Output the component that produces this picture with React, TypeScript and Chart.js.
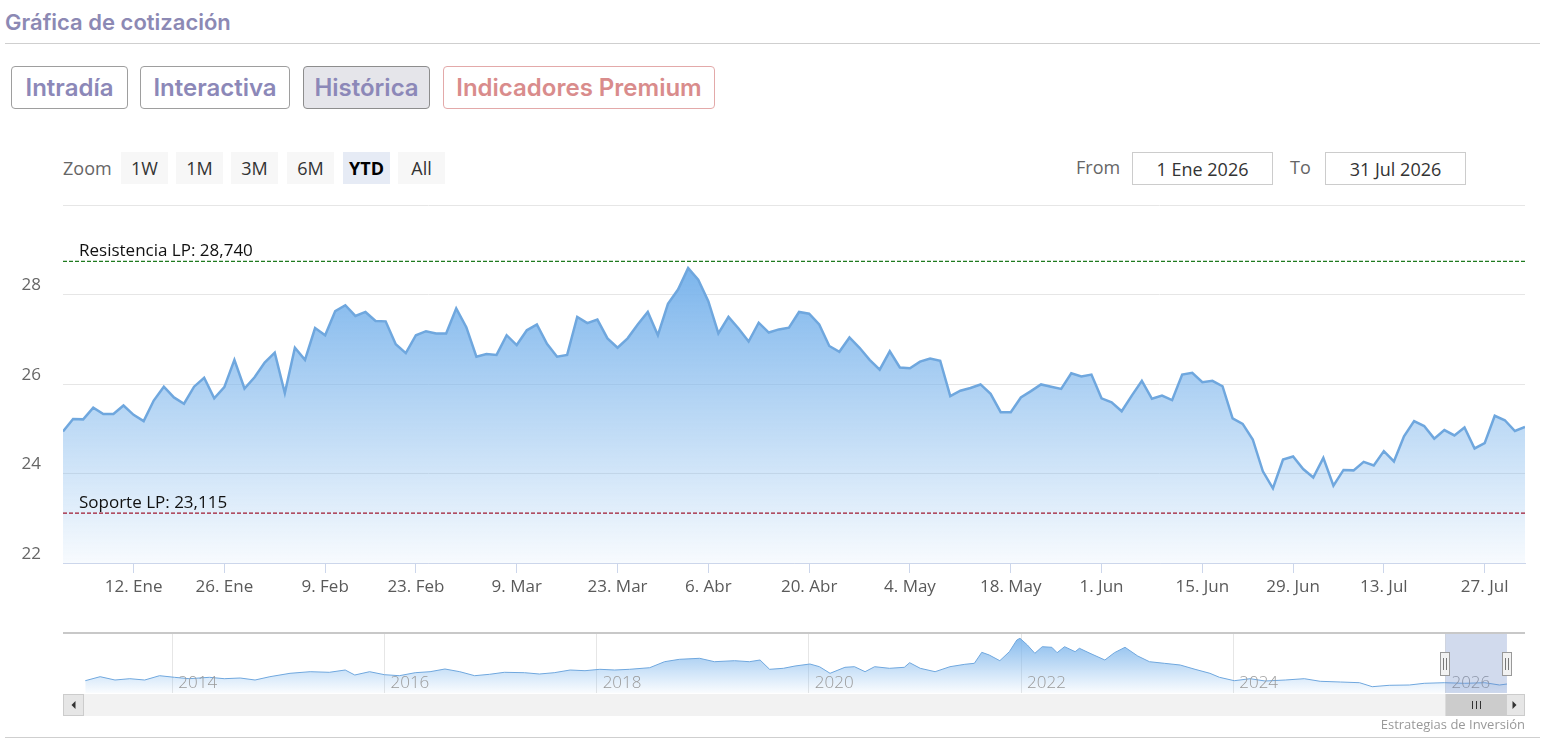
import React, { useEffect, useRef } from 'react';
import { Chart, registerables } from 'chart.js';

Chart.register(...registerables);

// ---------------- DATA ----------------
const priceValues: number[] = [
  24.94, 25.22, 25.21, 25.47, 25.33, 25.33, 25.52, 25.31, 25.17, 25.63,
  25.94, 25.70, 25.56, 25.94, 26.14, 25.68, 25.93, 26.54, 25.90, 26.15,
  26.48, 26.70, 25.80, 26.81, 26.54, 27.25, 27.09, 27.63, 27.76, 27.52,
  27.61, 27.41, 27.40, 26.89, 26.69, 27.09, 27.18,
  27.13, 27.13, 27.69, 27.27, 26.61, 26.67, 26.65, 27.09, 26.87, 27.20,
  27.33, 26.90, 26.61, 26.65, 27.50, 27.36, 27.44, 27.02, 26.81, 27.02,
  27.33, 27.61, 27.09, 27.79, 28.11, 28.59, 28.33, 27.85, 27.13, 27.50,
  27.24, 26.95, 27.37, 27.15, 27.22, 27.26,
  27.61, 27.57, 27.33, 26.85, 26.72, 27.04, 26.81, 26.54, 26.32, 26.73,
  26.37, 26.35, 26.50, 26.57, 26.52, 25.73, 25.85, 25.91, 25.99, 25.78,
  25.37, 25.37, 25.70, 25.84, 25.99, 25.94, 25.89, 26.24, 26.17, 26.21,
  25.68, 25.59, 25.39, 25.74, 26.07, 25.67, 25.74,
  25.64, 26.21, 26.25, 26.04, 26.07, 25.95, 25.23, 25.11, 24.76, 24.05,
  23.67, 24.31, 24.38, 24.10, 23.91, 24.35, 23.73, 24.08, 24.07, 24.26,
  24.18, 24.50, 24.27, 24.83, 25.17, 25.06, 24.78, 24.97, 24.85, 25.03,
  24.56, 24.68, 25.29, 25.19, 24.95, 25.04,
];

const tickIndices: number[] = [7, 16, 26, 35, 45, 55, 64, 74, 84, 94, 103, 113, 122, 131, 141];
const tickLabels: string[] = [
  '12. Ene', '26. Ene', '9. Feb', '23. Feb', '9. Mar', '23. Mar', '6. Abr', '20. Abr',
  '4. May', '18. May', '1. Jun', '15. Jun', '29. Jun', '13. Jul', '27. Jul',
];
const yTickValues: number[] = [22, 24, 26, 28, 30];

const levelValues: number[] = [28.74, 23.115];
const levelLabels: string[] = ['Resistencia LP: 28,740', 'Soporte LP: 23,115'];

const navYears: number[] = [
  2013.18, 2013.32, 2013.46, 2013.60, 2013.74, 2013.88, 2014.02, 2014.16, 2014.35, 2014.49,
  2014.64, 2014.78, 2014.92, 2015.11, 2015.30, 2015.48, 2015.63, 2015.72, 2015.86, 2016.00,
  2016.14, 2016.29, 2016.43, 2016.57, 2016.71, 2016.85, 2016.99, 2017.13, 2017.32, 2017.46,
  2017.60, 2017.75, 2017.89, 2018.03, 2018.17, 2018.31, 2018.50, 2018.64, 2018.78, 2018.97,
  2019.11, 2019.30, 2019.44, 2019.54, 2019.63, 2019.76, 2019.87, 2020.01, 2020.10, 2020.20,
  2020.34, 2020.43, 2020.53, 2020.62, 2020.76, 2020.90, 2020.95, 2021.05, 2021.19, 2021.33,
  2021.47, 2021.56, 2021.63, 2021.70, 2021.80, 2021.89, 2021.96, 2021.99, 2022.06, 2022.13,
  2022.20, 2022.29, 2022.34, 2022.41, 2022.51, 2022.55, 2022.65, 2022.79, 2022.88, 2022.98,
  2023.10, 2023.21, 2023.35, 2023.50, 2023.64, 2023.78, 2023.87, 2024.01, 2024.16, 2024.30,
  2024.49, 2024.67, 2024.82, 2025.01, 2025.19, 2025.31, 2025.47, 2025.66, 2025.80, 2025.99,
  2026.18, 2026.37, 2026.51, 2026.58,
];
const navValues: number[] = [
  29.3, 33.3, 30.0, 31.3, 30.0, 34.3, 32.7, 31.3, 32.7, 31.3,
  32.0, 30.0, 33.3, 36.7, 38.3, 37.7, 40.0, 35.0, 38.3, 35.3,
  34.3, 37.3, 38.3, 41.0, 38.3, 34.3, 35.7, 37.7, 37.3, 36.0,
  37.3, 40.0, 39.3, 40.7, 40.0, 40.7, 42.3, 48.3, 50.7, 51.7,
  48.3, 49.3, 48.3, 50.0, 40.7, 41.7, 44.0, 46.0, 43.3, 36.7,
  42.7, 43.3, 38.3, 43.3, 41.7, 42.7, 47.3, 41.7, 38.3, 43.3,
  45.7, 46.7, 57.7, 55.0, 49.3, 58.3, 70.0, 71.7, 65.0, 56.7,
  63.3, 62.7, 57.3, 63.3, 58.3, 61.7, 56.7, 50.0, 57.3, 62.7,
  54.0, 48.3, 46.7, 45.0, 40.7, 36.7, 32.7, 29.3, 31.3, 29.0,
  30.0, 31.3, 28.7, 28.0, 27.3, 23.3, 24.7, 25.0, 26.7, 27.3,
  26.7, 27.3, 25.0, 26.0,
];
const navYearTicks: number[] = [2014, 2016, 2018, 2020, 2022, 2024, 2026];
const navRange: number[] = [2012.97, 2026.75];
const selectionRange: number[] = [2026.0, 2026.58];

const zoomButtons: string[] = ['1W', '1M', '3M', '6M', 'YTD', 'All'];
const tabButtons: string[] = ['Intradía', 'Interactiva', 'Histórica', 'Indicadores Premium'];

// ---------------- STYLE ----------------
const OPEN = "'Open Sans', 'Noto Sans', 'DejaVu Sans', sans-serif";
const HEAD = "Inter, 'Noto Sans', sans-serif";
const LINE = '#6fa7de';
const levelColors = ['#1f7a1f', '#a01830'];

const levelsPlugin = {
  id: 'levels',
  afterDatasetsDraw(chart: any) {
    const { ctx, chartArea, scales } = chart;
    const y = scales.y;
    levelValues.forEach((v, i) => {
      const py = y.getPixelForValue(v);
      ctx.save();
      ctx.strokeStyle = levelColors[i];
      ctx.lineWidth = 1.3;
      ctx.setLineDash([4, 2]);
      ctx.beginPath();
      ctx.moveTo(chartArea.left, py);
      ctx.lineTo(chartArea.right, py);
      ctx.stroke();
      ctx.setLineDash([]);
      ctx.fillStyle = '#111';
      ctx.font = `17px ${OPEN}`;
      ctx.textBaseline = 'alphabetic';
      ctx.textAlign = 'left';
      ctx.fillText(levelLabels[i], chartArea.left + 16, py - 5);
      ctx.restore();
    });
  },
};

const navPlugin = {
  id: 'navDecor',
  afterDatasetsDraw(chart: any) {
    const { ctx, chartArea: a, scales } = chart;
    const x = scales.x;
    ctx.save();
    // year labels
    ctx.font = `300 17px ${OPEN}`;
    ctx.fillStyle = '#9a9a9a';
    ctx.textBaseline = 'alphabetic';
    ctx.textAlign = 'left';
    navYearTicks.forEach((yr) => {
      const px = x.getPixelForValue(yr);
      ctx.fillText(String(yr), px + 6, a.bottom - 5);
    });
    // selection mask
    const x0 = x.getPixelForValue(selectionRange[0]);
    const x1 = x.getPixelForValue(selectionRange[1]);
    ctx.fillStyle = 'rgba(102,133,194,0.3)';
    ctx.fillRect(x0, a.top, x1 - x0, a.bottom - a.top);
    // outline
    ctx.strokeStyle = '#c8c8c8';
    ctx.lineWidth = 2;
    ctx.beginPath();
    ctx.moveTo(a.left, a.top);
    ctx.lineTo(a.right, a.top);
    ctx.stroke();
    // handles
    [x0, x1].forEach((hx) => {
      const hxr = Math.round(hx);
      ctx.fillStyle = '#f2f2f2';
      ctx.strokeStyle = '#999';
      ctx.lineWidth = 1;
      ctx.fillRect(hxr - 4.5, a.top + 19.5, 9, 23);
      ctx.strokeRect(hxr - 4.5, a.top + 19.5, 9, 23);
      ctx.strokeStyle = '#777';
      ctx.beginPath();
      ctx.moveTo(hxr - 1.5, a.top + 25);
      ctx.lineTo(hxr - 1.5, a.top + 37);
      ctx.moveTo(hxr + 1.5, a.top + 25);
      ctx.lineTo(hxr + 1.5, a.top + 37);
      ctx.stroke();
    });
    // scrollbar
    const sy = a.bottom + 1;
    const sh = 22;
    const bw = 21;
    ctx.fillStyle = '#f2f2f2';
    ctx.fillRect(a.left, sy, a.right - a.left, sh);
    ctx.fillStyle = '#e6e6e6';
    ctx.strokeStyle = '#cccccc';
    ctx.fillRect(a.left, sy, bw, sh);
    ctx.strokeRect(a.left + 0.5, sy + 0.5, bw - 1, sh - 1);
    ctx.fillRect(a.right - bw, sy, bw, sh);
    ctx.strokeRect(a.right - bw + 0.5, sy + 0.5, bw - 1, sh - 1);
    // thumb
    ctx.fillStyle = '#cccccc';
    ctx.fillRect(x0, sy, x1 - x0, sh);
    ctx.strokeStyle = '#333';
    ctx.lineWidth = 1;
    const cx = Math.round((x0 + x1) / 2) + 0.5;
    ctx.beginPath();
    [-4, 0, 4].forEach((d) => {
      ctx.moveTo(cx + d, sy + 7);
      ctx.lineTo(cx + d, sy + 15);
    });
    ctx.stroke();
    // arrows
    ctx.fillStyle = '#333';
    const lcx = a.left + bw / 2;
    const rcx = a.right - bw / 2;
    const cy = sy + sh / 2;
    ctx.beginPath();
    ctx.moveTo(lcx - 2, cy);
    ctx.lineTo(lcx + 2, cy - 4);
    ctx.lineTo(lcx + 2, cy + 4);
    ctx.closePath();
    ctx.fill();
    ctx.beginPath();
    ctx.moveTo(rcx + 2, cy);
    ctx.lineTo(rcx - 2, cy - 4);
    ctx.lineTo(rcx - 2, cy + 4);
    ctx.closePath();
    ctx.fill();
    ctx.restore();
  },
};

const abs = (left: number, top: number, extra: React.CSSProperties = {}): React.CSSProperties => ({
  position: 'absolute',
  left,
  top,
  ...extra,
});

export default function App() {
  const mainRef = useRef<HTMLCanvasElement | null>(null);
  const navRef = useRef<HTMLCanvasElement | null>(null);

  useEffect(() => {
    if (!mainRef.current || !navRef.current) return;

    const mainChart = new Chart(mainRef.current, {
      type: 'line',
      data: {
        datasets: [
          {
            data: priceValues.map((v, i) => ({ x: i, y: v })),
            borderColor: LINE,
            borderWidth: 2.5,
            pointRadius: 0,
            tension: 0,
            fill: 'start',
            backgroundColor: (c: any) => {
              const ch = c.chart;
              const area = ch.chartArea;
              if (!area) return 'rgba(124,181,236,0.5)';
              const yS = ch.scales.y;
              const top = yS.getPixelForValue(Math.max(...priceValues));
              const g = ch.ctx.createLinearGradient(0, top, 0, area.bottom);
              g.addColorStop(0, 'rgba(124,181,236,1)');
              g.addColorStop(1, 'rgba(124,181,236,0.06)');
              return g;
            },
          },
        ],
      },
      options: {
        responsive: false,
        animation: false,
        maintainAspectRatio: false,
        layout: { padding: { left: 0, right: 34, top: 10, bottom: 0 } },
        plugins: { legend: { display: false }, tooltip: { enabled: false } },
        scales: {
          x: {
            type: 'linear',
            min: 0,
            max: priceValues.length - 1,
            afterBuildTicks: (s: any) => {
              s.ticks = tickIndices.map((v) => ({ value: v }));
            },
            afterFit: (s: any) => {
              s.height = 52;
              s.paddingLeft = 0;
              s.paddingRight = 0;
            },
            ticks: {
              autoSkip: false,
              maxRotation: 0,
              minRotation: 0,
              padding: 4,
              color: '#5a5a5a',
              font: { family: OPEN, size: 17 },
              callback: (v: any) => {
                const k = tickIndices.indexOf(Number(v));
                return k >= 0 ? tickLabels[k] : '';
              },
            },
            grid: { drawOnChartArea: false, drawTicks: true, tickLength: 10, color: '#ccd6eb' },
            border: { color: '#ccd6eb', width: 1 },
          },
          y: {
            min: 22,
            max: 30,
            afterBuildTicks: (s: any) => {
              s.ticks = yTickValues.map((v) => ({ value: v }));
            },
            afterFit: (s: any) => {
              s.width = 63;
              s.paddingTop = 0;
              s.paddingBottom = 0;
            },
            ticks: {
              padding: 22,
              labelOffset: -9,
              color: '#666',
              font: { family: OPEN, size: 17 },
              callback: (v: any) => (Number(v) === 30 ? '' : String(v)),
            },
            grid: { color: '#e6e6e6', drawTicks: false },
            border: { display: false },
          },
        },
      },
      plugins: [levelsPlugin],
    } as any);

    const navChart = new Chart(navRef.current, {
      type: 'line',
      data: {
        datasets: [
          {
            data: navYears.map((yr, i) => ({ x: yr, y: navValues[i] })),
            borderColor: '#6fa7de',
            borderWidth: 1,
            pointRadius: 0,
            tension: 0,
            fill: 'start',
            backgroundColor: (c: any) => {
              const ch = c.chart;
              const area = ch.chartArea;
              if (!area) return 'rgba(124,181,236,0.4)';
              const yS = ch.scales.y;
              const top = yS.getPixelForValue(Math.max(...navValues));
              const g = ch.ctx.createLinearGradient(0, top, 0, area.bottom);
              g.addColorStop(0, 'rgba(124,181,236,0.9)');
              g.addColorStop(1, 'rgba(124,181,236,0.04)');
              return g;
            },
          },
        ],
      },
      options: {
        responsive: false,
        animation: false,
        maintainAspectRatio: false,
        layout: { padding: { left: 63, right: 34, top: 8, bottom: 32 } },
        plugins: { legend: { display: false }, tooltip: { enabled: false } },
        scales: {
          x: {
            type: 'linear',
            min: navRange[0],
            max: navRange[1],
            afterBuildTicks: (s: any) => {
              s.ticks = navYearTicks.map((v) => ({ value: v }));
            },
            afterFit: (s: any) => {
              s.height = 0;
            },
            ticks: { display: false },
            grid: { drawOnChartArea: true, drawTicks: false, color: '#e6e6e6' },
            border: { display: false },
          },
          y: {
            display: false,
            min: 17,
            max: 77,
          },
        },
      },
      plugins: [navPlugin],
    } as any);

    return () => {
      mainChart.destroy();
      navChart.destroy();
    };
  }, []);

  const tabLefts = [11, 140, 303, 443];
  const tabWidths = [117, 150, 127, 272];
  const zoomLefts = [121, 176, 231, 287, 343, 398];

  return (
    <div style={{ position: 'absolute', left: 0, top: 0, width: 1559, height: 753, background: '#fff', overflow: 'hidden' }}>
      <div
        style={abs(5, 8, {
          font: `600 22px ${HEAD}`,
          color: '#8c89b4',
          lineHeight: '28px',
          whiteSpace: 'nowrap',
        })}
      >
        Gráfica de cotización
      </div>
      <div style={abs(5, 43, { width: 1535, height: 1, background: '#cfcfcf' })} />

      {tabButtons.map((t, i) => {
        const premium = i === 3;
        const active = i === 2;
        return (
          <div
            key={t}
            style={abs(tabLefts[i], 66, {
              width: tabWidths[i],
              height: 43,
              boxSizing: 'border-box',
              border: `1px solid ${premium ? '#e3a9a9' : active ? '#8d8d8d' : '#9e9e9e'}`,
              borderRadius: 4,
              background: active ? '#e5e5ea' : '#fff',
              color: premium ? '#d98c8c' : '#8c88b8',
              font: `600 24px ${HEAD}`,
              display: 'flex',
              alignItems: 'center',
              justifyContent: 'center',
              whiteSpace: 'nowrap',
            })}
          >
            {t}
          </div>
        );
      })}

      <div style={abs(63, 155, { font: `18px ${OPEN}`, color: '#666', lineHeight: '26px' })}>Zoom</div>
      {zoomButtons.map((b, i) => {
        const sel = b === 'YTD';
        return (
          <div
            key={b}
            style={abs(zoomLefts[i], 152, {
              width: 47,
              height: 32,
              background: sel ? '#e6ebf5' : '#f7f7f7',
              color: sel ? '#000' : '#333',
              font: `${sel ? 700 : 400} 18px ${OPEN}`,
              display: 'flex',
              alignItems: 'center',
              justifyContent: 'center',
            })}
          >
            {b}
          </div>
        );
      })}

      <div style={abs(1076, 153, { font: `18px ${OPEN}`, color: '#666', lineHeight: '28px' })}>From</div>
      <div
        style={abs(1132, 152, {
          width: 141,
          height: 33,
          boxSizing: 'border-box',
          border: '1px solid #cccccc',
          font: `18px ${OPEN}`,
          color: '#333',
          display: 'flex',
          alignItems: 'center',
          justifyContent: 'center',
        })}
      >
        1 Ene 2026
      </div>
      <div style={abs(1290, 153, { font: `18px ${OPEN}`, color: '#666', lineHeight: '28px' })}>To</div>
      <div
        style={abs(1325, 152, {
          width: 141,
          height: 33,
          boxSizing: 'border-box',
          border: '1px solid #cccccc',
          font: `18px ${OPEN}`,
          color: '#333',
          display: 'flex',
          alignItems: 'center',
          justifyContent: 'center',
        })}
      >
        31 Jul 2026
      </div>

      <canvas ref={mainRef} width={1559} height={420} style={abs(0, 195, { width: 1559, height: 420 })} />
      <canvas ref={navRef} width={1559} height={100} style={abs(0, 625, { width: 1559, height: 100 })} />

      <div
        style={abs(1300, 715, {
          width: 225,
          textAlign: 'right',
          font: `13px ${OPEN}`,
          color: '#999',
          lineHeight: '18px',
          whiteSpace: 'nowrap',
        })}
      >
        Estrategias de Inversión
      </div>
      <div style={abs(5, 737, { width: 1535, height: 1, background: '#cfcfcf' })} />
    </div>
  );
}
